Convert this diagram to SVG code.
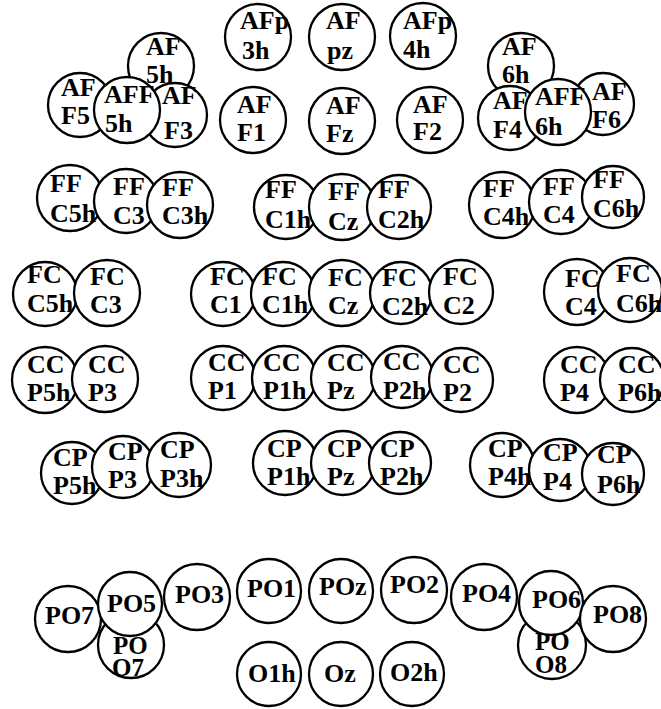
<svg xmlns="http://www.w3.org/2000/svg" width="661" height="709" viewBox="0 0 661 709">
<style>
.n circle{fill:#fff;stroke:#000;stroke-width:2.3}
.n text{font-family:"Liberation Serif","Times New Roman",serif;font-weight:bold;font-size:26px;fill:#000}
.n text.s{font-size:25px}
</style>
<rect width="661" height="709" fill="#fff"/>
<g id="connectors"/>
<g id="nodes">
<g class="n" id="AFp3h"><circle cx="258" cy="37" r="33"/><text x="240" y="29">AFp</text><text x="242" y="59">3h</text></g>
<g class="n" id="AFpz"><circle cx="342" cy="37" r="33"/><text x="326" y="29">AF</text><text x="327" y="59">pz</text></g>
<g class="n" id="AFp4h"><circle cx="423" cy="36" r="33"/><text x="403" y="29">AFp</text><text x="403" y="58">4h</text></g>
<g class="n" id="AF5h"><circle cx="161" cy="66" r="33"/><text x="146" y="55">AF</text><text x="146" y="83">5h</text></g>
<g class="n" id="AFF5"><circle cx="80" cy="105" r="32"/><text x="61" y="96">AF</text><text x="61" y="124">F5</text></g>
<g class="n" id="AFF3"><circle cx="175" cy="115" r="32"/><text x="162" y="104">AF</text><text x="164" y="139">F3</text></g>
<g class="n" id="AFF5h"><circle cx="127" cy="110" r="33"/><text x="104" y="103">AFF</text><text x="105" y="132">5h</text></g>
<g class="n" id="AFF1"><circle cx="253" cy="120" r="33"/><text x="237" y="113">AF</text><text x="237" y="141">F1</text></g>
<g class="n" id="AFFz"><circle cx="342" cy="121" r="33"/><text x="326" y="114">AF</text><text x="326" y="142">Fz</text></g>
<g class="n" id="AFF2"><circle cx="430" cy="120" r="33"/><text x="413" y="113">AF</text><text x="413" y="140">F2</text></g>
<g class="n" id="AF6h"><circle cx="521" cy="66" r="33"/><text x="502" y="55">AF</text><text x="502" y="83">6h</text></g>
<g class="n" id="AFF4"><circle cx="510" cy="118" r="32"/><text x="493" y="109">AF</text><text x="493" y="138">F4</text></g>
<g class="n" id="AFF6"><circle cx="603" cy="104" r="31"/><text x="592" y="100">AF</text><text x="592" y="128">F6</text></g>
<g class="n" id="AFF6h"><circle cx="558" cy="112" r="33"/><text x="535" y="105">AFF</text><text x="535" y="135">6h</text></g>

<g class="n" id="FFC5h"><circle cx="70" cy="198" r="33"/><text x="50" y="192">FF</text><text x="50" y="222">C5h</text></g>
<g class="n" id="FFC3"><circle cx="126" cy="201" r="32"/><text x="113" y="195">FF</text><text x="113" y="224">C3</text></g>
<g class="n" id="FFC3h"><circle cx="180" cy="205" r="33"/><text x="162" y="196">FF</text><text x="162" y="224">C3h</text></g>
<g class="n" id="FFC1h"><circle cx="286" cy="207" r="32"/><text x="265" y="198">FF</text><text x="265" y="228">C1h</text></g>
<g class="n" id="FFCz"><circle cx="342" cy="207" r="33"/><text x="328" y="200">FF</text><text x="328" y="230">Cz</text></g>
<g class="n" id="FFC2h"><circle cx="399" cy="207" r="32"/><text x="378" y="198">FF</text><text x="378" y="228">C2h</text></g>
<g class="n" id="FFC4h"><circle cx="502" cy="205" r="33"/><text x="483" y="197">FF</text><text x="483" y="225">C4h</text></g>
<g class="n" id="FFC4"><circle cx="561" cy="202" r="32"/><text x="543" y="195">FF</text><text x="543" y="223">C4</text></g>
<g class="n" id="FFC6h"><circle cx="613" cy="197" r="31"/><text x="593" y="188">FF</text><text x="593" y="217">C6h</text></g>

<g class="n" id="FCC5h"><circle cx="45" cy="294" r="32"/><text x="27" y="283">FC</text><text x="27" y="312">C5h</text></g>
<g class="n" id="FCC3"><circle cx="107" cy="293" r="33"/><text x="90" y="285">FC</text><text x="90" y="313">C3</text></g>
<g class="n" id="FCC1"><circle cx="223" cy="294" r="32"/><text x="210" y="285">FC</text><text x="210" y="313">C1</text></g>
<g class="n" id="FCC1h"><circle cx="283" cy="294" r="32"/><text x="262" y="285">FC</text><text x="262" y="313">C1h</text></g>
<g class="n" id="FCCz"><circle cx="342" cy="293" r="33"/><text x="328" y="286">FC</text><text x="328" y="314">Cz</text></g>
<g class="n" id="FCC2h"><circle cx="401" cy="293" r="31"/><text x="382" y="286">FC</text><text x="382" y="315">C2h</text></g>
<g class="n" id="FCC2"><circle cx="461" cy="292" r="32"/><text x="443" y="285">FC</text><text x="443" y="314">C2</text></g>
<g class="n" id="FCC4"><circle cx="577" cy="292" r="33"/><text x="565" y="287">FC</text><text x="565" y="315">C4</text></g>
<g class="n" id="FCC6h"><circle cx="630" cy="290" r="32"/><text x="616" y="282">FC</text><text x="616" y="312">C6h</text></g>

<g class="n" id="CCP5h"><circle cx="45" cy="380" r="33"/><text x="27" y="373">CC</text><text x="27" y="401">P5h</text></g>
<g class="n" id="CCP3"><circle cx="105" cy="379" r="33"/><text x="88" y="373">CC</text><text x="88" y="401">P3</text></g>
<g class="n" id="CCP1"><circle cx="223" cy="378" r="32"/><text x="208" y="371">CC</text><text x="208" y="399">P1</text></g>
<g class="n" id="CCP1h"><circle cx="284" cy="378" r="32"/><text x="263" y="371">CC</text><text x="263" y="399">P1h</text></g>
<g class="n" id="CCPz"><circle cx="343" cy="378" r="32"/><text x="327" y="371">CC</text><text x="327" y="399">Pz</text></g>
<g class="n" id="CCP2h"><circle cx="402" cy="377" r="31"/><text x="383" y="370">CC</text><text x="383" y="399">P2h</text></g>
<g class="n" id="CCP2"><circle cx="461" cy="380" r="32"/><text x="443" y="373">CC</text><text x="443" y="401">P2</text></g>
<g class="n" id="CCP4"><circle cx="577" cy="380" r="33"/><text x="560" y="373">CC</text><text x="560" y="401">P4</text></g>
<g class="n" id="CCP6h"><circle cx="632" cy="380" r="32"/><text x="618" y="373">CC</text><text x="618" y="401">P6h</text></g>

<g class="n" id="CPP5h"><circle cx="72" cy="473" r="31"/><text x="53" y="466">CP</text><text x="53" y="494">P5h</text></g>
<g class="n" id="CPP3"><circle cx="123" cy="467" r="31"/><text x="108" y="460">CP</text><text x="108" y="488">P3</text></g>
<g class="n" id="CPP3h"><circle cx="179" cy="465" r="32"/><text x="160" y="458">CP</text><text x="160" y="487">P3h</text></g>
<g class="n" id="CPP1h"><circle cx="285" cy="463" r="32"/><text x="267" y="457">CP</text><text x="267" y="485">P1h</text></g>
<g class="n" id="CPPz"><circle cx="343" cy="463" r="32"/><text x="327" y="457">CP</text><text x="327" y="485">Pz</text></g>
<g class="n" id="CPP2h"><circle cx="400" cy="463" r="31"/><text x="380" y="457">CP</text><text x="380" y="485">P2h</text></g>
<g class="n" id="CPP4h"><circle cx="502" cy="465" r="32"/><text x="488" y="457">CP</text><text x="488" y="485">P4h</text></g>
<g class="n" id="CPP4"><circle cx="560" cy="470" r="31"/><text x="543" y="461">CP</text><text x="543" y="490">P4</text></g>
<g class="n" id="CPP6h"><circle cx="613" cy="474" r="31"/><text x="597" y="463">CP</text><text x="597" y="493">P6h</text></g>

<g class="n" id="PO7"><circle cx="68" cy="619" r="33"/><text x="45" y="624">PO7</text></g>
<g class="n" id="POO7"><circle cx="131" cy="645" r="33"/><text class="s" x="113" y="654">PO</text><text class="s" x="112" y="676">O7</text></g>
<g class="n" id="PO5"><circle cx="130" cy="604" r="32"/><text x="107" y="612">PO5</text></g>
<g class="n" id="PO3"><circle cx="197" cy="597" r="33"/><text x="175" y="603">PO3</text></g>
<g class="n" id="PO1"><circle cx="269" cy="591" r="32"/><text x="247" y="597">PO1</text></g>
<g class="n" id="POz"><circle cx="341" cy="591" r="32"/><text x="319" y="595">POz</text></g>
<g class="n" id="PO2"><circle cx="414" cy="590" r="33"/><text x="390" y="593">PO2</text></g>
<g class="n" id="PO4"><circle cx="484" cy="597" r="33"/><text x="462" y="602">PO4</text></g>
<g class="n" id="POO8"><circle cx="552" cy="645" r="34"/><text class="s" x="535" y="650">PO</text><text class="s" x="535" y="673">O8</text></g>
<g class="n" id="PO6"><circle cx="551" cy="603" r="32"/><text x="532" y="608">PO6</text></g>
<g class="n" id="PO8"><circle cx="613" cy="619" r="33"/><text x="593" y="623">PO8</text></g>
<g class="n" id="O1h"><circle cx="269" cy="674" r="32"/><text x="248" y="682">O1h</text></g>
<g class="n" id="Oz"><circle cx="341" cy="674" r="32"/><text x="324" y="682">Oz</text></g>
<g class="n" id="O2h"><circle cx="412" cy="674" r="32"/><text x="390" y="681">O2h</text></g>
</g>
</svg>
